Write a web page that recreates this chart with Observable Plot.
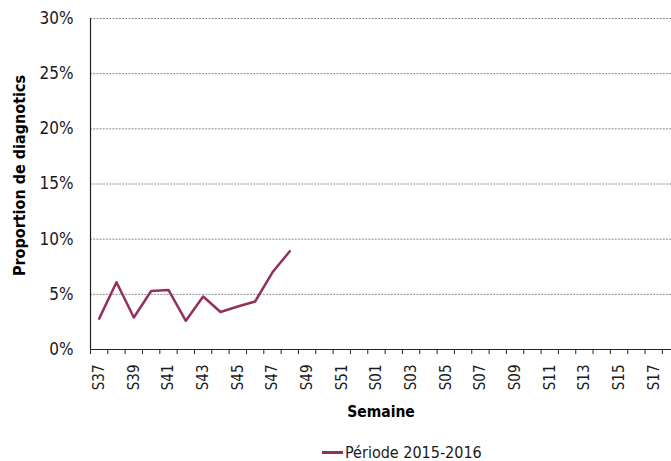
<!DOCTYPE html>
<html>
<head>
<meta charset="utf-8">
<script src="https://cdn.jsdelivr.net/npm/d3@7"></script>
<script src="https://cdn.jsdelivr.net/npm/@observablehq/plot@0.6"></script>
<style>
  html, body { margin: 0; padding: 0; background: white; }
  body { width: 671px; height: 461px; overflow: hidden; font-family: "DejaVu Sans Condensed", "Liberation Sans Narrow", "Liberation Sans", sans-serif; font-stretch: condensed; }
  #legend { height: 31px; margin-top: 7px; display: flex; align-items: center; justify-content: flex-start; padding-left: 322px; font-size: 16px; color: #1a1a1a; }
  #legend .sw { width: 21px; height: 2.5px; background: #93305f; margin-right: 2px; }
</style>
</head>
<body>
<div id="chart"></div>
<div id="legend"><span class="sw"></span><span>Période 2015-2016</span></div>
<script>
// Weeks on the category axis (S37 → S18)
const weeks = ["S37","S38","S39","S40","S41","S42","S43","S44","S45","S46","S47","S48",
  "S49","S50","S51","S52","S01","S02","S03","S04","S05","S06","S07","S08","S09","S10",
  "S11","S12","S13","S14","S15","S16","S17","S18"];
// Series: Période 2015-2016 (proportion de diagnostics, %)
const seriesWeeks = ["S37","S38","S39","S40","S41","S42","S43","S44","S45","S46","S47","S48"];
const seriesValues = [2.8, 6.1, 2.9, 5.3, 5.4, 2.6, 4.8, 3.4, 3.9, 4.35, 7.0, 8.9];
const yTicks = [0, 5, 10, 15, 20, 25, 30];
const labeledWeeks = ["S37","S39","S41","S43","S45","S47","S49","S51","S01","S03","S05",
  "S07","S09","S11","S13","S15","S17"];

const data = seriesWeeks.map((w, i) => ({idx: weeks.indexOf(w), value: seriesValues[i]}));
const labelIdx = labeledWeeks.map(w => weeks.indexOf(w));
const boundaries = d3.range(weeks.length + 1).map(i => i - 0.5);
const font = '"DejaVu Sans Condensed", "Liberation Sans Narrow", "Liberation Sans", sans-serif';
const H = 430;
const step = 17.33;

const plot = Plot.plot({
  width: 671,
  height: H,
  marginLeft: 90,
  marginRight: 0,
  marginTop: 18,
  marginBottom: H - 349,
  style: {fontFamily: font, fontStretch: "condensed", fontSize: "17px", color: "#1a1a1a", background: "white"},
  x: {type: "linear", domain: [-0.5, weeks.length - 0.5], range: [90, 90 + step * weeks.length]},
  y: {domain: [0, 30]},
  marks: [
    Plot.gridY(yTicks.filter(d => d > 0), {stroke: "#8a8a8a", strokeOpacity: 1, strokeDasharray: "2,1.2", strokeWidth: 1}),
    Plot.axisY(yTicks, {tickSize: 0, tickPadding: 17, tickFormat: d => d + "%", fontSize: 17, label: null}),
    Plot.axisX(boundaries, {tickSize: 5, tickFormat: () => "", label: null, stroke: "#222"}),
    Plot.axisX(labelIdx, {tickSize: 0, tickPadding: 15, tickRotate: -90, tickFormat: i => weeks[i], fontSize: 15, label: null}),
    Plot.ruleY([0], {stroke: "#222", strokeWidth: 1.2}),
    Plot.ruleX([-0.5], {stroke: "#222", strokeWidth: 1.2}),
    Plot.line(data, {x: "idx", y: "value", stroke: "#93305f", strokeWidth: 2.5}),
    Plot.text(["Semaine"], {frameAnchor: "bottom", dy: 67, fontWeight: "bold", fontSize: 15.5, fill: "#000"}),
    Plot.text(["Proportion de diagnotics"], {frameAnchor: "left", textAnchor: "middle", rotate: -90, dx: -70.5, dy: -8.5, fontWeight: "bold", fontSize: 16, fill: "#000"})
  ]
});
document.getElementById("chart").appendChild(plot);
</script>
</body>
</html>
